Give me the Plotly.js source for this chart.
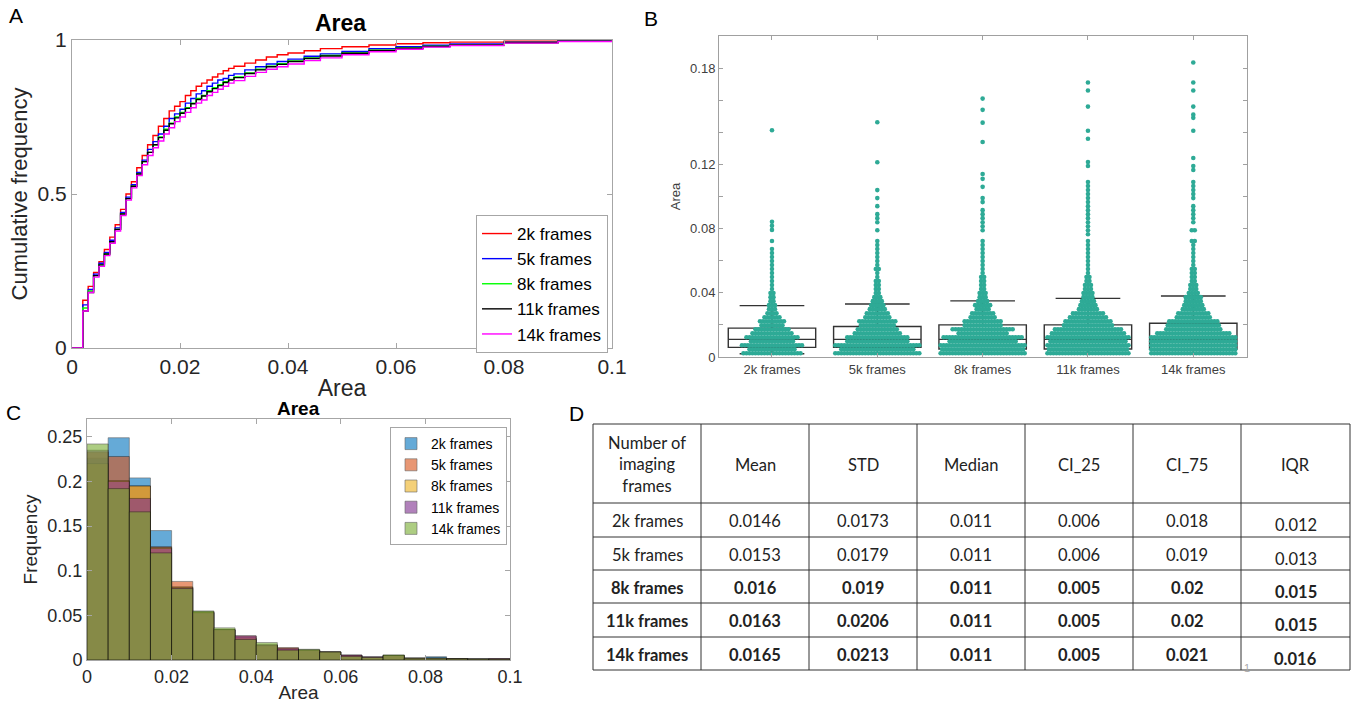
<!DOCTYPE html>
<html>
<head>
<meta charset="utf-8">
<script src="https://cdn.plot.ly/plotly-3.0.1.min.js"></script>
<style>html,body{margin:0;padding:0;background:#fff;}#chart{width:1358px;height:704px;}</style>
</head>
<body>
<div id="chart"></div>
<script>
// ---------------- DATA ----------------
const seriesNames = ["2k frames", "5k frames", "8k frames", "11k frames", "14k frames"];

// Panel A: cumulative frequency (step curves)
const cdfArea = [0, 0.002, 0.003, 0.004, 0.005, 0.006, 0.007, 0.008, 0.009, 0.010, 0.011, 0.012, 0.013, 0.014, 0.015,
  0.016, 0.017, 0.018, 0.019, 0.020, 0.021, 0.022, 0.023, 0.024, 0.025, 0.026, 0.027, 0.028, 0.029, 0.030,
  0.032, 0.034, 0.036, 0.038, 0.040, 0.043, 0.046, 0.050, 0.055, 0.060, 0.065, 0.070, 0.080, 0.090, 0.100];
const cdf2k = [0, .155, .20, .245, .28, .32, .36, .40, .45, .50, .54, .585, .625, .66, .69, .72, .745, .77, .785, .80, .82, .835, .85, .86, .87, .88, .89, .90, .908, .915, .925, .935, .945, .952, .958, .965, .972, .978, .984, .988, .991, .993, .996, .998, 1.0];
const cdf5k = [0, .14, .19, .24, .275, .31, .35, .39, .44, .49, .53, .57, .61, .645, .67, .695, .72, .745, .76, .775, .795, .81, .825, .835, .85, .86, .87, .875, .885, .89, .903, .913, .922, .93, .938, .947, .955, .963, .972, .978, .983, .987, .993, .997, 1.0];
const cdf8k = [0, .13, .185, .235, .27, .305, .345, .385, .435, .485, .525, .565, .605, .635, .66, .685, .71, .73, .75, .765, .78, .795, .81, .82, .835, .845, .855, .865, .872, .88, .893, .905, .915, .923, .932, .942, .95, .958, .967, .974, .98, .985, .992, .996, 1.0];
const cdf11k = [0, .12, .18, .235, .27, .305, .345, .385, .435, .485, .525, .565, .605, .635, .66, .683, .707, .728, .747, .762, .778, .793, .807, .818, .832, .842, .852, .862, .87, .878, .891, .903, .913, .921, .93, .94, .948, .957, .966, .973, .979, .984, .991, .996, 1.0];
const cdf14k = [0, .12, .18, .23, .265, .30, .34, .38, .43, .48, .52, .56, .595, .625, .65, .672, .695, .715, .735, .75, .765, .78, .795, .805, .82, .83, .84, .85, .86, .868, .882, .895, .905, .913, .922, .933, .942, .952, .962, .97, .977, .982, .99, .995, .999];
const cdfColors = ["#ff0000", "#0000ff", "#00ff00", "#000000", "#ff00ff"];

// Panel B: swarm rows (area level, number of dots per row) + box statistics
const rowLevels = [0.0023, 0.0048, 0.0073, 0.0098, 0.0123, 0.0148, 0.0173, 0.0198, 0.0223, 0.0248, 0.0273, 0.0298,
  0.0323, 0.0348, 0.0373, 0.0398, 0.0423, 0.0448, 0.0473, 0.0498, 0.0523, 0.0548, 0.0573, 0.0598, 0.0623, 0.0648,
  0.0673, 0.0698, 0.0723];
const rows2k  = [20, 16, 21, 15, 18, 14, 12, 8, 9, 6, 4, 3, 3, 2, 2, 2, 1, 1, 1, 1, 1, 1, 1, 1, 1, 1, 1, 0, 1];
const rows5k  = [29, 25, 29, 21, 21, 16, 14, 12, 13, 9, 8, 6, 5, 4, 3, 2, 2, 2, 2, 1, 1, 2, 1, 1, 1, 1, 1, 1, 1];
const rows8k  = [29, 28, 29, 23, 27, 17, 21, 13, 13, 9, 8, 5, 6, 4, 3, 3, 2, 2, 2, 2, 1, 1, 1, 1, 1, 1, 1, 1, 1];
const rows11k = [28, 27, 28, 26, 28, 25, 23, 17, 16, 13, 11, 7, 6, 5, 4, 4, 3, 3, 2, 2, 1, 1, 1, 1, 1, 1, 1, 1, 1];
const rows14k = [29, 29, 29, 29, 29, 25, 19, 18, 17, 12, 11, 8, 7, 6, 6, 4, 3, 3, 2, 2, 2, 2, 1, 1, 1, 1, 1, 1, 2];
const high2k  = [0.0792, 0.0817, 0.0842, 0.1413];
const high5k  = [0.079, 0.084, 0.0865, 0.089, 0.094, 0.099, 0.104, 0.1213, 0.1463];
const high8k  = [0.079, 0.0815, 0.084, 0.0865, 0.089, 0.0915, 0.0965, 0.099, 0.106, 0.111, 0.114, 0.134, 0.146, 0.154, 0.161];
const high11k = [0.0765, 0.079, 0.0815, 0.084, 0.0865, 0.089, 0.0915, 0.094, 0.0965, 0.099, 0.1015, 0.104, 0.1065, 0.109, 0.119, 0.1215, 0.136, 0.141, 0.156, 0.166, 0.171];
const high14k = [0.079, 0.079, 0.084, 0.0865, 0.089, 0.0915, 0.094, 0.099, 0.1015, 0.104, 0.1065, 0.109, 0.1165, 0.119, 0.124, 0.141, 0.149, 0.151, 0.156, 0.166, 0.171, 0.1835];
const boxQ1     = [0.006, 0.006, 0.005, 0.005, 0.005];
const boxMedian = [0.011, 0.011, 0.011, 0.011, 0.011];
const boxQ3     = [0.018, 0.019, 0.020, 0.020, 0.021];
const boxLow    = [0.002, 0.002, 0.002, 0.002, 0.002];
const boxUpper  = [0.032, 0.033, 0.035, 0.0365, 0.038];
const bTickVals = [0, 0.02, 0.04, 0.06, 0.08, 0.10, 0.12, 0.14, 0.16, 0.18];
const bTickText = ["0", "", "0.04", "", "0.08", "", "0.12", "", "", "0.18"];

// Panel C: histogram (bin width 0.005)
const binCenters = [0.0025, 0.0075, 0.0125, 0.0175, 0.0225, 0.0275, 0.0325, 0.0375, 0.0425, 0.0475,
  0.0525, 0.0575, 0.0625, 0.0675, 0.0725, 0.0775, 0.0825, 0.0875, 0.0925, 0.0975];
const hist2k  = [0.226, 0.249, 0.204, 0.145, 0.081, 0.054, 0.034, 0.024, 0.016, 0.012, 0.011, 0.009, 0.005, 0.003, 0.005, 0.002, 0.0037, 0.0015, 0.0012, 0.001];
const hist5k  = [0.233, 0.228, 0.195, 0.127, 0.088, 0.053, 0.034, 0.027, 0.017, 0.014, 0.011, 0.009, 0.0056, 0.003, 0.005, 0.002, 0.002, 0.0015, 0.0012, 0.0015];
const hist8k  = [0.220, 0.201, 0.195, 0.126, 0.082, 0.054, 0.034, 0.025, 0.016, 0.012, 0.011, 0.0092, 0.005, 0.003, 0.005, 0.002, 0.002, 0.0015, 0.001, 0.001];
const hist11k = [0.235, 0.200, 0.181, 0.125, 0.081, 0.053, 0.034, 0.027, 0.017, 0.013, 0.011, 0.009, 0.0056, 0.0037, 0.005, 0.002, 0.002, 0.0015, 0.0012, 0.0015];
const hist14k = [0.242, 0.192, 0.166, 0.120, 0.080, 0.055, 0.036, 0.023, 0.0195, 0.011, 0.012, 0.009, 0.004, 0.003, 0.0058, 0.002, 0.002, 0.0015, 0.0012, 0.001];
const histColors = ["rgb(0,114,189)", "rgb(217,83,25)", "rgb(237,177,32)", "rgb(126,47,142)", "rgb(119,172,48)"];

// Panel D: table
const tableHeader = ["Number of<br>imaging<br>frames", "Mean", "STD", "Median", "CI_25", "CI_75", "IQR"];
const tabMean   = [0.0146, 0.0153, 0.016, 0.0163, 0.0165];
const tabSTD    = [0.0173, 0.0179, 0.019, 0.0206, 0.0213];
const tabMedian = [0.011, 0.011, 0.011, 0.011, 0.011];
const tabCI25   = [0.006, 0.006, 0.005, 0.005, 0.005];
const tabCI75   = [0.018, 0.019, 0.02, 0.02, 0.021];
const tabIQR    = [0.012, 0.013, 0.015, 0.015, 0.016];

// ---------------- LAYOUT HELPERS ----------------
const W = 1358, H = 704;
const px = x => x / W;
const py = y => 1 - y / H;
const FONT = "Liberation Sans, Arial, sans-serif";
const TFONT = "Lato, Open Sans, sans-serif";

const traces = [];

// Panel A
[cdf2k, cdf5k, cdf8k, cdf11k, cdf14k].forEach((ys, i) => {
  traces.push({
    type: "scatter", mode: "lines", x: cdfArea, y: ys, name: seriesNames[i],
    line: {color: cdfColors[i], width: 1.4, shape: "hv"},
    xaxis: "x", yaxis: "y", legend: "legend"
  });
});

// Panel B swarm
const dotStep = 0.0285; // horizontal spacing of swarm dots (category units)
const rowsAll = [rows2k, rows5k, rows8k, rows11k, rows14k];
const highAll = [high2k, high5k, high8k, high11k, high14k];
rowsAll.forEach((counts, c) => {
  const xs = [], ys = [];
  const addRow = (v, n) => {
    for (let j = 0; j < n; j++) { xs.push(c + (j - (n - 1) / 2) * dotStep); ys.push(v); }
  };
  rowLevels.forEach((v, i) => addRow(v, counts[i]));
  const grp = {};
  highAll[c].forEach(v => { grp[v] = (grp[v] || 0) + 1; });
  Object.keys(grp).forEach(k => addRow(parseFloat(k), grp[k]));
  traces.push({
    type: "scatter", mode: "markers", x: xs, y: ys, showlegend: false, hoverinfo: "y",
    marker: {color: "rgb(46,170,150)", size: 4.6, line: {width: 0}},
    xaxis: "x2", yaxis: "y2"
  });
});
traces.push({
  type: "box", x: [0, 1, 2, 3, 4], q1: boxQ1, median: boxMedian, q3: boxQ3,
  lowerfence: boxLow, upperfence: boxUpper, width: 0.83, whiskerwidth: 0.74,
  boxpoints: false, fillcolor: "rgba(0,0,0,0)", line: {color: "#333333", width: 1.4},
  showlegend: false, xaxis: "x2", yaxis: "y2"
});

// Panel C histogram
[hist2k, hist5k, hist8k, hist11k, hist14k].forEach((ys, i) => {
  traces.push({
    type: "bar", x: binCenters, y: ys, width: 0.005, name: seriesNames[i],
    marker: {color: histColors[i], line: {color: "#000000", width: 0.6}},
    opacity: 0.6, xaxis: "x3", yaxis: "y3", legend: "legend2"
  });
});

const axisStyle = (color) => ({
  showline: true, mirror: "allticks", linecolor: color, linewidth: 1,
  ticks: "inside", ticklen: 5, tickcolor: color, showgrid: false, zeroline: false,
  fixedrange: true
});
const gA = "#a6a6a6";

// Panel D table: grid lines as shapes, cell texts as annotations
const colEdges = [593, 701, 809, 917, 1025, 1133, 1241, 1350];
const rowEdges = [424, 503, 537, 570, 603, 637, 670];
const shapes = [];
colEdges.forEach(x => shapes.push({type: "line", xref: "paper", yref: "paper",
  x0: px(x), x1: px(x), y0: py(rowEdges[0]), y1: py(rowEdges[rowEdges.length - 1]),
  line: {color: "#333", width: 1}}));
rowEdges.forEach(y => shapes.push({type: "line", xref: "paper", yref: "paper",
  x0: px(colEdges[0]), x1: px(colEdges[colEdges.length - 1]), y0: py(y), y1: py(y),
  line: {color: "#333", width: 1}}));

const annotations = [];
const cellText = (text, col, row, bold, yshift) => {
  const cx = (colEdges[col] + colEdges[col + 1]) / 2;
  const cy = (rowEdges[row] + rowEdges[row + 1]) / 2 + 1;
  annotations.push({text: bold ? "<b>" + text + "</b>" : text, x: px(cx), y: py(cy),
    xref: "paper", yref: "paper", xanchor: "center", yanchor: "middle", align: "center",
    showarrow: false, yshift: yshift || 0, font: {family: TFONT, size: 16.5, color: "#222"}});
};
tableHeader.forEach((h, c) => cellText(h, c, 0, false, 0));
const tabCols = [seriesNames, tabMean, tabSTD, tabMedian, tabCI25, tabCI75, tabIQR];
tabCols.forEach((col, c) => col.forEach((v, r) => cellText(String(v), c, r + 1, r >= 2, c === 6 ? -4 : 0)));

// Titles and panel letters
const addLabel = (text, x, y, size, extra) => annotations.push(Object.assign({text: text, x: px(x), y: py(y),
  xref: "paper", yref: "paper", xanchor: "center", yanchor: "middle", showarrow: false,
  font: {family: FONT, size: size, color: "#000"}}, extra || {}));
addLabel("<b>Area</b>", 340, 23, 23);
addLabel("<b>Area</b>", 298, 408, 19);
addLabel("A", 16, 16, 21);
addLabel("B", 651, 19, 21);
addLabel("C", 13, 412, 21);
addLabel("D", 576, 414, 21);
addLabel("1", 1247, 668, 11, {font: {family: FONT, size: 11, color: "#aaa"}});

const layout = {
  width: W, height: H, margin: {l: 0, r: 0, t: 0, b: 0},
  paper_bgcolor: "#ffffff", plot_bgcolor: "#ffffff",
  font: {family: FONT, color: "#262626"},
  showlegend: true,
  xaxis: Object.assign(axisStyle(gA), {
    domain: [px(72), px(612)], anchor: "y", range: [0, 0.1], tick0: 0, dtick: 0.02,
    tickfont: {size: 21, color: "#262626"},
    title: {text: "Area", font: {size: 23, color: "#262626"}, standoff: 2}
  }),
  yaxis: Object.assign(axisStyle(gA), {
    domain: [py(348), py(40)], anchor: "x", range: [0, 1], tick0: 0, dtick: 0.5,
    tickfont: {size: 21, color: "#262626"},
    title: {text: "Cumulative frequency", font: {size: 22, color: "#262626"}, standoff: 3}
  }),
  xaxis2: Object.assign(axisStyle("#a0a0a0"), {
    domain: [px(719), px(1247)], anchor: "y2", range: [-0.503, 4.51],
    tickvals: [0, 1, 2, 3, 4], ticktext: seriesNames, ticklen: 4,
    tickfont: {size: 13, color: "#404040"}
  }),
  yaxis2: Object.assign(axisStyle("#a0a0a0"), {
    domain: [py(357), py(36)], anchor: "x2", range: [0, 0.2],
    tickvals: bTickVals, ticktext: bTickText, ticklen: 4,
    tickfont: {size: 13, color: "#404040"},
    title: {text: "Area", font: {size: 13, color: "#404040"}, standoff: 6}
  }),
  xaxis3: Object.assign(axisStyle(gA), {
    domain: [px(87), px(510)], anchor: "y3", range: [0, 0.1], tick0: 0, dtick: 0.02,
    tickfont: {size: 18, color: "#262626"},
    title: {text: "Area", font: {size: 19, color: "#262626"}, standoff: 0}
  }),
  yaxis3: Object.assign(axisStyle(gA), {
    domain: [py(660), py(419)], anchor: "x3", range: [0, 0.27], tick0: 0, dtick: 0.05,
    tickfont: {size: 18, color: "#262626"},
    title: {text: "Frequency", font: {size: 19, color: "#262626"}, standoff: 4}
  }),
  barmode: "overlay", bargap: 0,
  legend: {
    x: px(608), xanchor: "right", y: py(215), yanchor: "top",
    bgcolor: "#ffffff", bordercolor: gA, borderwidth: 1,
    font: {size: 17, color: "#000"}, tracegroupgap: 0, itemwidth: 30
  },
  legend2: {
    x: px(507), xanchor: "right", y: py(427), yanchor: "top",
    bgcolor: "#ffffff", bordercolor: gA, borderwidth: 1,
    font: {size: 14, color: "#000"}, tracegroupgap: 0, itemwidth: 30
  },
  shapes: shapes,
  annotations: annotations
};

Plotly.newPlot("chart", traces, layout, {displayModeBar: false, staticPlot: true});
</script>
</body>
</html>
